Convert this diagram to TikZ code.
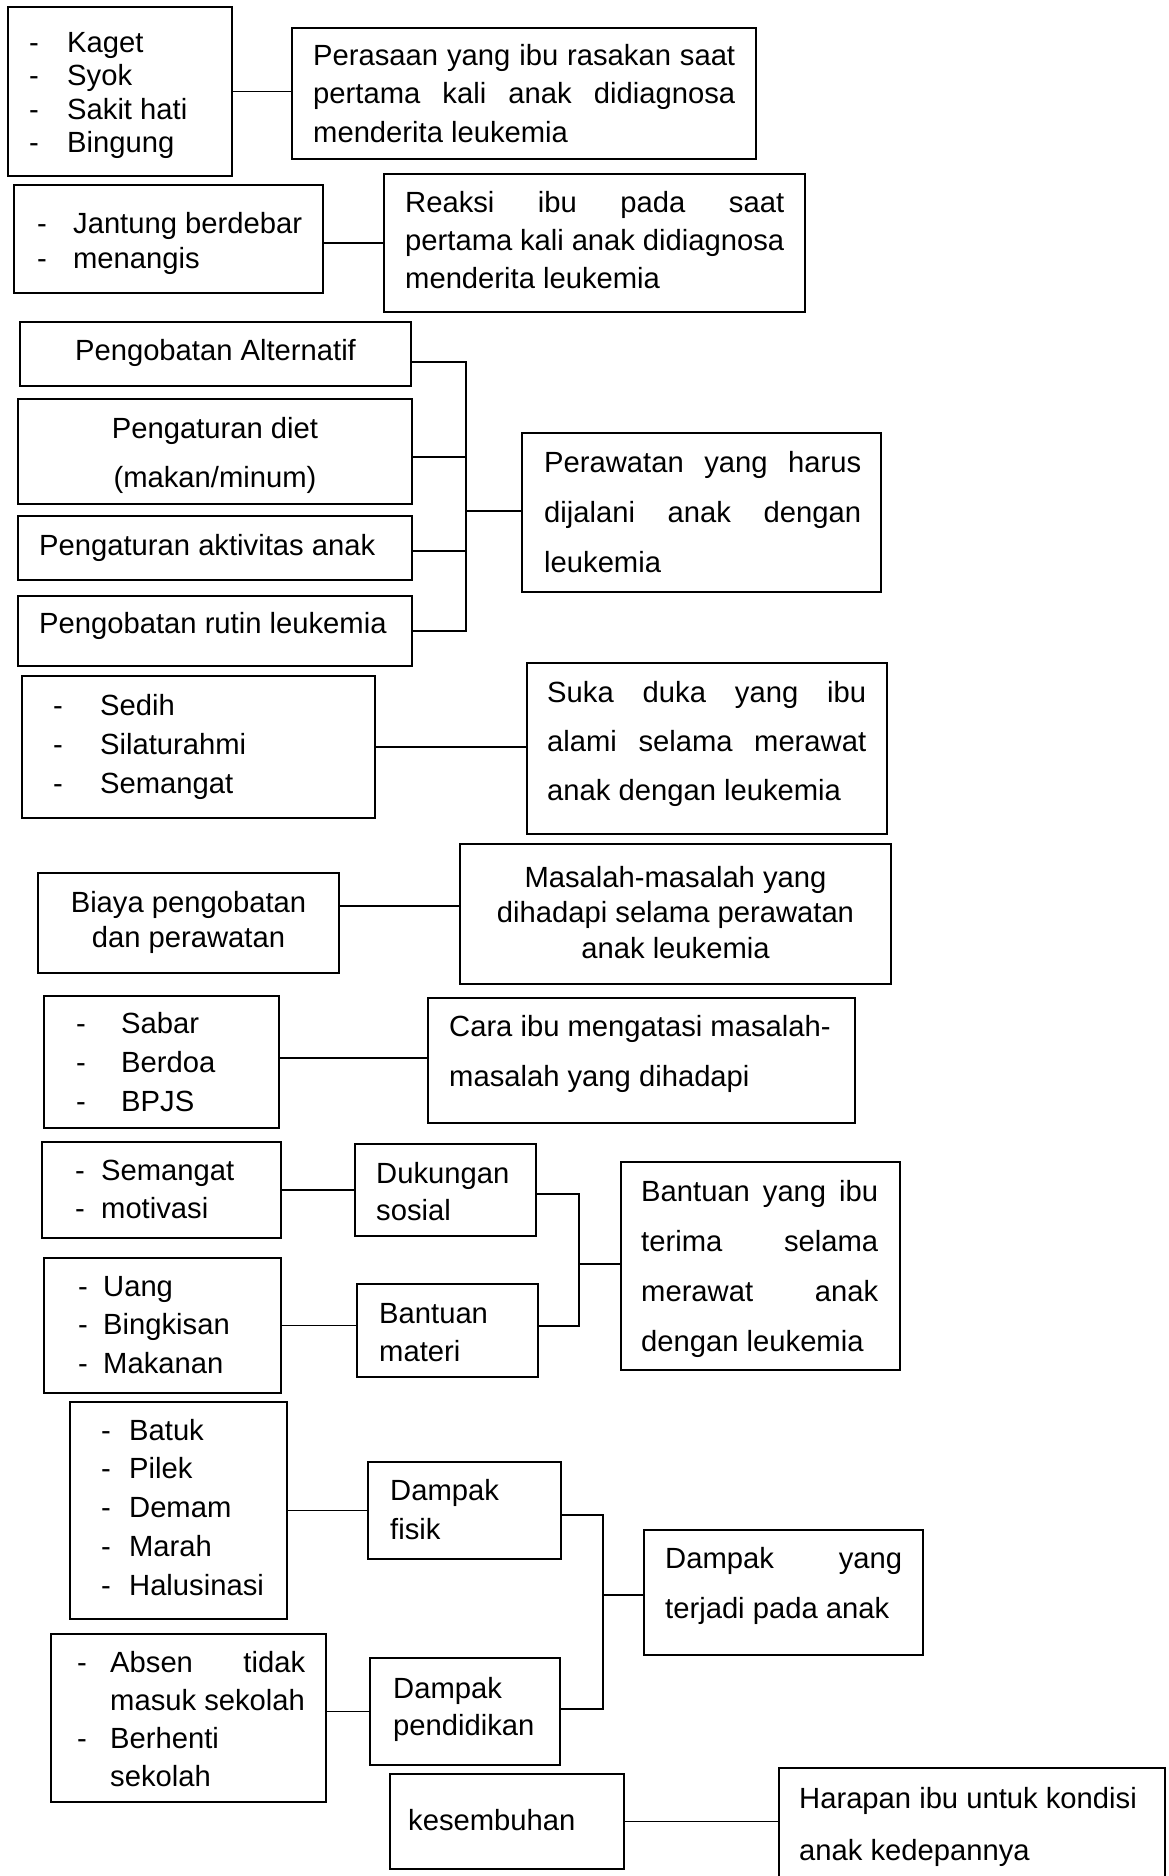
\documentclass[tikz,border=0pt]{standalone}
\usepackage{fontspec}
\setmainfont{Liberation Sans}
\newcommand\fs[1]{\fontsize{29.2pt}{#1pt}\selectfont}
\newcommand\jl[2]{\makebox[#1pt][s]{#2}}
\newcommand\dl[2]{\makebox[#1pt][l]{-}#2}
\newcommand\mybox[5]{\node[boxst, minimum width={#4pt-#2pt}, minimum height={#5pt-#3pt}] (#1) at ({(#2+#4)/2},{(#3+#5)/2}) {};}
\tikzset{
  boxst/.style={draw, line width=2.7pt, inner sep=0pt, outer sep=0pt},
  conn/.style={line width=1.5pt},
  % multi-line nodes: anchor is the baseline of the LAST line
  txt/.style={anchor=base west, inner sep=0pt, align=left, font=\fs{36}},
  ctxt/.style={anchor=base, inner sep=0pt, align=center, font=\fs{36}},
}
\begin{document}
\begin{tikzpicture}[x=1pt, y=-1pt]
\fill[white] (0,0) rectangle (1168,1876);
\useasboundingbox (0,0) rectangle (1168,1876);
% boxes
\mybox{A}{8}{7}{232}{176}
\mybox{B}{292}{28}{756}{159}
\mybox{C}{14}{185}{323}{293}
\mybox{D}{384}{174}{805}{312}
\mybox{E}{20}{322}{411}{386}
\mybox{F}{18}{399}{412}{504}
\mybox{G}{18}{516}{412}{580}
\mybox{H}{18}{596}{412}{666}
\mybox{I}{522}{433}{881}{592}
\mybox{J}{22}{676}{375}{818}
\mybox{K}{527}{663}{887}{834}
\mybox{L}{38}{873}{339}{973}
\mybox{M}{460}{844}{891}{984}
\mybox{N}{44}{996}{279}{1128}
\mybox{O}{428}{998}{855}{1123}
\mybox{P}{42}{1142}{281}{1238}
\mybox{Q}{355}{1144}{536}{1236}
\mybox{R}{44}{1258}{281}{1393}
\mybox{S}{357}{1284}{538}{1377}
\mybox{T}{621}{1162}{900}{1370}
\mybox{U}{70}{1402}{287}{1619}
\mybox{V}{368}{1462}{561}{1559}
\mybox{W}{644}{1530}{923}{1655}
\mybox{X}{51}{1634}{326}{1802}
\mybox{Y}{370}{1658}{560}{1765}
\mybox{Z}{390}{1774}{624}{1869}
\mybox{AA}{779}{1768}{1165}{1910}
% texts (y = baseline of last line)
\node[txt, font=\fs{33.5}] (At) at (29,152.5) {\dl{38}{Kaget}\\\dl{38}{Syok}\\\dl{38}{Sakit hati}\\\dl{38}{Bingung}};
\node[txt, font=\fs{38.5}] (Bt) at (313,142) {\jl{422}{Perasaan yang ibu rasakan saat}\\\jl{422}{pertama kali anak didiagnosa}\\menderita leukemia};
\node[txt, font=\fs{35}] (Ct) at (37,268) {\dl{36}{Jantung berdebar}\\\dl{36}{menangis}};
\node[txt, font=\fs{38}] (Dt) at (405,288) {\jl{379}{Reaksi ibu pada saat}\\\jl{379}{pertama kali anak didiagnosa}\\menderita leukemia};
\node[ctxt] (Et) at (215.5,360) {Pengobatan Alternatif};
\node[ctxt, font=\fs{49.5}] (Ft) at (215,487.5) {Pengaturan diet\\(makan/minum)};
\node[txt] (Gt) at (39,555) {Pengaturan aktivitas anak};
\node[txt] (Ht) at (39,633) {Pengobatan rutin leukemia};
\node[txt, font=\fs{50}] (It) at (544,572) {\jl{317}{Perawatan yang harus}\\\jl{317}{dijalani anak dengan}\\leukemia};
\node[txt, font=\fs{39}] (Jt) at (53,793) {\dl{47}{Sedih}\\\dl{47}{Silaturahmi}\\\dl{47}{Semangat}};
\node[txt, font=\fs{49}] (Kt) at (547,800) {\jl{319}{Suka duka yang ibu}\\\jl{319}{alami selama merawat}\\anak dengan leukemia};
\node[ctxt, font=\fs{35}] (Lt) at (188.5,947) {Biaya pengobatan\\dan perawatan};
\node[ctxt, font=\fs{35.5}] (Mt) at (675.5,958) {Masalah-masalah yang\\dihadapi selama perawatan\\anak leukemia};
\node[txt, font=\fs{39}] (Nt) at (76,1111) {\dl{45}{Sabar}\\\dl{45}{Berdoa}\\\dl{45}{BPJS}};
\node[txt, font=\fs{50}] (Ot) at (449,1086) {Cara ibu mengatasi masalah-\\masalah yang dihadapi};
\node[txt, font=\fs{38}] (Pt) at (75,1218) {\dl{26}{Semangat}\\\dl{26}{motivasi}};
\node[txt, font=\fs{37}] (Qt) at (376,1220) {Dukungan\\sosial};
\node[txt, font=\fs{38.5}] (Rt) at (78,1373) {\dl{25}{Uang}\\\dl{25}{Bingkisan}\\\dl{25}{Makanan}};
\node[txt, font=\fs{38}] (St) at (379,1361) {Bantuan\\materi};
\node[txt, font=\fs{50}] (Tt) at (641,1351) {\jl{237}{Bantuan yang ibu}\\\jl{237}{terima selama}\\\jl{237}{merawat anak}\\dengan leukemia};
\node[txt, font=\fs{38.7}] (Ut) at (101,1595) {\dl{28}{Batuk}\\\dl{28}{Pilek}\\\dl{28}{Demam}\\\dl{28}{Marah}\\\dl{28}{Halusinasi}};
\node[txt, font=\fs{39}] (Vt) at (390,1539) {Dampak\\fisik};
\node[txt, font=\fs{50}] (Wt) at (665,1618) {\jl{237}{Dampak yang}\\terjadi pada anak};
\node[txt, font=\fs{38}] (Xt) at (77,1786) {\dl{33}{\jl{195}{Absen tidak}}\\\hspace*{33pt}masuk sekolah\\\dl{33}{Berhenti}\\\hspace*{33pt}sekolah};
\node[txt, font=\fs{37}] (Yt) at (393,1735) {Dampak\\pendidikan};
\node[txt] (Zt) at (408,1830) {kesembuhan};
\node[txt, font=\fs{52}] (AAt) at (799,1860) {Harapan ibu untuk kondisi\\anak kedepannya};
% connectors
\draw[conn] (A.east) -- (A.east -| B.west);
\draw[conn] (D.west -| C.east) -- (D.west);
\coordinate (br1) at (466,511);
\coordinate (e1) at ([yshift=-8pt]E.east);
\coordinate (f1) at ([yshift=-5.5pt]F.east);
\coordinate (g1) at ([yshift=-3pt]G.east);
\draw[conn] (e1) -| (br1 |- H.east) -- (H.east);
\draw[conn] (f1) -- (f1 -| br1);
\draw[conn] (g1) -- (g1 -| br1);
\draw[conn] (br1) -- (br1 -| I.west);
\draw[conn] (J.east) -- (J.east -| K.west);
\coordinate (l1) at ([yshift=17pt]L.east);
\draw[conn] (l1) -- (l1 -| M.west);
\coordinate (n1) at ([yshift=4pt]N.east);
\draw[conn] (n1) -- (n1 -| O.west);
\draw[conn] (P.east) -- (P.east -| Q.west);
\draw[conn] (R.east) -- (R.east -| S.west);
\coordinate (br2) at (579,1264);
\coordinate (q1) at ([yshift=-4pt]Q.east);
\coordinate (s1) at ([yshift=4.5pt]S.east);
\draw[conn] (q1) -| (br2 |- s1) -- (s1);
\draw[conn] (br2) -- (br2 -| T.west);
\draw[conn] (U.east) -- (U.east -| V.west);
\coordinate (br3) at (603,1595);
\coordinate (v1) at ([yshift=-4.5pt]V.east);
\coordinate (y1) at ([yshift=2.5pt]Y.east);
\draw[conn] (v1) -| (br3 |- y1) -- (y1);
\draw[conn] (br3) -- (br3 -| W.west);
\draw[conn] (Y.west -| X.east) -- (Y.west);
\draw[conn] (Z.east) -- (Z.east -| AA.west);
\end{tikzpicture}
\end{document}
